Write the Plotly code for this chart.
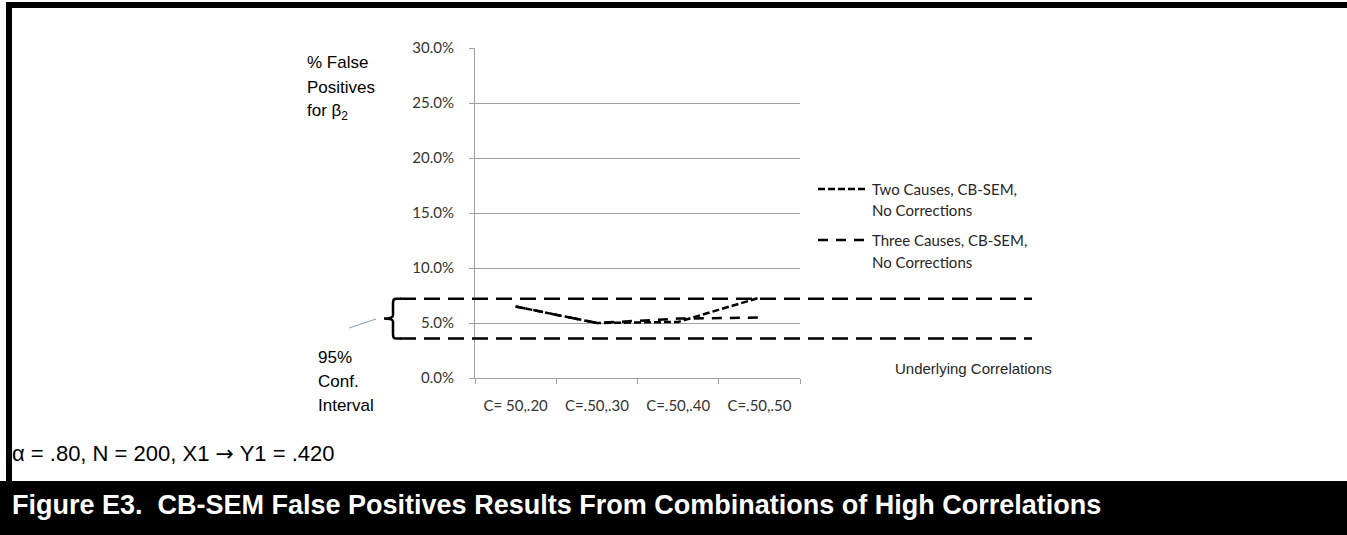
import plotly.graph_objects as go

# Data
categories = ["C= 50,.20", "C=.50,.30", "C=.50,.40", "C=.50,.50"]
two_causes = [6.5, 5.0, 5.1, 7.3]
three_causes = [6.5, 5.0, 5.4, 5.5]
ci_bounds = [3.6, 7.2]          # 95% confidence interval around 5%
y_ticks = [0, 5, 10, 15, 20, 25, 30]

W, H = 1347, 535
L, R, T, B = 475, 800, 48, 378   # plot area in pixels

DASH_TWO = "7px,3px"
DASH_THREE = "10px,8px"
DASH_CI = "16px,8px"
CAL = "Lato"                      # Calibri-like face for chart text
ARIAL = "Liberation Sans, Arial"


def px(x):
    return (x - L) / (R - L)


def py(y):
    return (B - y) / (B - T)


fig = go.Figure()

fig.add_trace(go.Scatter(
    x=categories, y=two_causes, mode="lines",
    line=dict(color="black", width=2.5, dash=DASH_TWO),
    name="Two Causes, CB-SEM, No Corrections", showlegend=False,
))
fig.add_trace(go.Scatter(
    x=categories, y=three_causes, mode="lines",
    line=dict(color="black", width=2.5, dash=DASH_THREE),
    name="Three Causes, CB-SEM, No Corrections", showlegend=False,
))

shapes = []
annotations = []

# confidence interval lines
for v in ci_bounds:
    shapes.append(dict(type="line", xref="paper", yref="y",
                       x0=px(400), x1=px(1032), y0=v, y1=v,
                       line=dict(color="black", width=2.5, dash=DASH_CI)))

# brace bracketing the interval
top_py = B - ci_bounds[1] * (B - T) / 30
bot_py = B - ci_bounds[0] * (B - T) / 30
mid_py = (top_py + bot_py) / 2
brace = (f"M {px(401)},{py(top_py)} L {px(396)},{py(top_py)} "
         f"Q {px(393)},{py(top_py)} {px(393)},{py(top_py + 4)} "
         f"L {px(393)},{py(mid_py - 3)} Q {px(393)},{py(mid_py)} {px(384)},{py(mid_py)} "
         f"Q {px(393)},{py(mid_py)} {px(393)},{py(mid_py + 3)} "
         f"L {px(393)},{py(bot_py - 4)} Q {px(393)},{py(bot_py)} {px(396)},{py(bot_py)} "
         f"L {px(401)},{py(bot_py)}")
shapes.append(dict(type="path", xref="paper", yref="paper", path=brace,
                   line=dict(color="black", width=2.5)))
# pointer from the label to the brace
shapes.append(dict(type="line", xref="paper", yref="paper",
                   x0=px(349), y0=py(328), x1=px(376), y1=py(319),
                   line=dict(color="#7f9cbf", width=1)))

# legend samples
shapes.append(dict(type="line", xref="paper", yref="paper",
                   x0=px(818), x1=px(868), y0=py(189), y1=py(189),
                   line=dict(color="black", width=2.5, dash=DASH_TWO)))
shapes.append(dict(type="line", xref="paper", yref="paper",
                   x0=px(818), x1=px(868), y0=py(240), y1=py(240),
                   line=dict(color="black", width=2.5, dash=DASH_THREE)))

# page frame
shapes.append(dict(type="rect", xref="paper", yref="paper", layer="above",
                   x0=px(6), x1=px(W + 5), y0=py(2), y1=py(8),
                   fillcolor="black", line=dict(width=0)))
shapes.append(dict(type="rect", xref="paper", yref="paper", layer="above",
                   x0=px(6), x1=px(12), y0=py(2), y1=py(482),
                   fillcolor="black", line=dict(width=0)))
shapes.append(dict(type="rect", xref="paper", yref="paper", layer="below",
                   x0=px(-5), x1=px(W + 5), y0=py(481), y1=py(H + 5),
                   fillcolor="black", line=dict(width=0)))


def label(text, x, y, size, color="black", family=ARIAL, bold=False):
    if bold:
        text = f"<b>{text}</b>"
    annotations.append(dict(text=text, x=px(x), y=py(y), xref="paper", yref="paper",
                            xanchor="left", yanchor="middle", showarrow=False,
                            font=dict(size=size, color=color, family=family)))


label("% False", 305, 62, 17)
label("Positives", 305, 87, 17)
label("for β<sub>2</sub>", 305, 112, 17)

label("95%", 316, 357, 17)
label("Conf.", 316, 381, 17)
label("Interval", 316, 405, 17)

label("Two Causes, CB-SEM,", 870, 189, 15, color="#262626", family=CAL)
label("No Corrections", 870, 210, 15, color="#262626", family=CAL)
label("Three Causes, CB-SEM,", 870, 240, 15, color="#262626", family=CAL)
label("No Corrections", 870, 262, 15, color="#262626", family=CAL)

label("Underlying Correlations", 893, 368, 15, color="#262626")

label("α = .80, N = 200, X1 <span style='font-family:DejaVu Sans'>→</span> Y1 = .420",
      10, 453, 22)
label("Figure E3.&nbsp; CB-SEM False Positives Results From Combinations of High Correlations",
      10, 505, 27, color="white", bold=True)

fig.update_layout(
    width=W, height=H,
    margin=dict(l=L, r=W - R, t=T, b=H - B, pad=0),
    paper_bgcolor="white", plot_bgcolor="white",
    shapes=shapes, annotations=annotations,
    showlegend=False,
    xaxis=dict(
        type="category", range=[-0.5, 3.5], tickson="boundaries",
        ticks="outside", ticklen=5, tickcolor="#a0a0a0",
        showline=True, linecolor="#a0a0a0", linewidth=1,
        showgrid=False, zeroline=False, fixedrange=True,
        tickfont=dict(family=CAL, size=15, color="#333"),
        ticklabelstandoff=14,
    ),
    yaxis=dict(
        range=[0, 30], tickvals=y_ticks,
        ticktext=[f"{v:.1f}%" for v in y_ticks],
        ticks="outside", ticklen=5, tickcolor="#a0a0a0",
        showline=True, linecolor="#a0a0a0", linewidth=1,
        showgrid=True, gridcolor="#a0a0a0", gridwidth=1,
        zeroline=False, fixedrange=True,
        tickfont=dict(family=CAL, size=15, color="#333"),
        ticklabelstandoff=12,
    ),
)

fig.write_html("out.html")
